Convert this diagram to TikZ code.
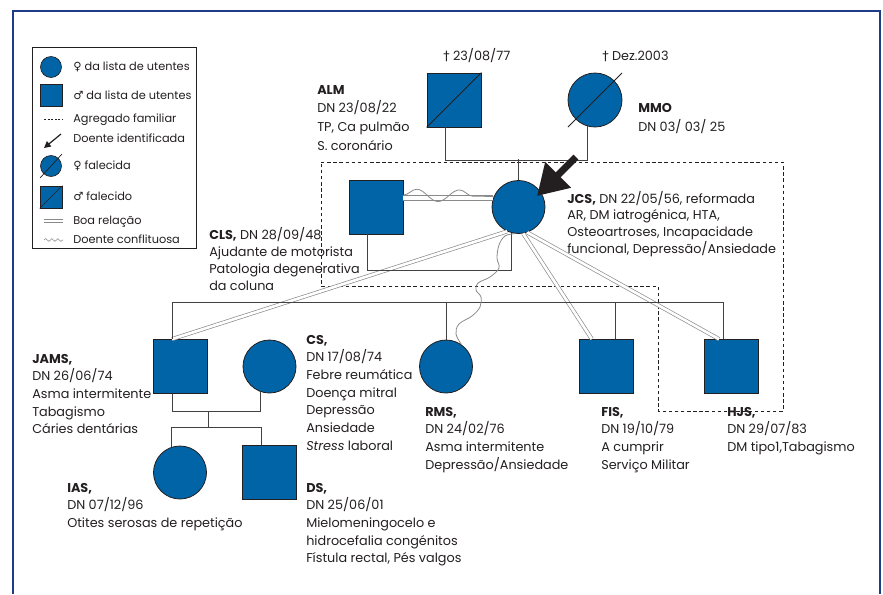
\documentclass[tikz,border=0pt]{standalone}
\usepackage{fontspec}
\setmainfont{Poppins}
\newfontfamily\symf{DejaVu Sans}
\usetikzlibrary{arrows.meta,calc,decorations.pathmorphing}
\definecolor{gblue}{HTML}{0064A6}
\definecolor{frameblue}{HTML}{1F3C88}
\definecolor{ink}{HTML}{231F20}
\definecolor{rel}{HTML}{8A8A8A}
\newcommand{\plines}[1]{\begin{tabular}[t]{@{}l@{}}#1\end{tabular}}
\begin{document}
\begin{tikzpicture}[x=0.75pt,y=-0.75pt,
  fem/.style={circle,draw=ink,fill=gblue,line width=0.6pt,minimum size=39.75pt,inner sep=0pt},
  mal/.style={rectangle,draw=ink,fill=gblue,line width=0.6pt,minimum size=40.5pt,inner sep=0pt},
  lfem/.style={circle,draw=ink,fill=gblue,line width=0.5pt,minimum size=15.75pt,inner sep=0pt},
  lmal/.style={rectangle,draw=ink,fill=gblue,line width=0.5pt,minimum size=16.5pt,inner sep=0pt},
  ped/.style={draw=ink!85,line width=0.7pt},
  hh/.style={draw=ink,line width=0.6pt,dash pattern=on 2.6pt off 2pt},
  good/.style={draw=rel,line width=0.5pt,double=white,double distance=2pt},
  conf/.style={draw=rel,line width=0.6pt},
  lbl/.style={anchor=base west,inner sep=0pt,text=ink,font=\fontsize{9.6}{13.3}\selectfont},
  lgt/.style={anchor=base west,inner sep=0pt,text=ink,font=\fontsize{8.5}{9}\selectfont}]
\useasboundingbox (0,0) rectangle (883,594);
% frame
\draw[frameblue,line width=1.2pt] (13,594) -- (13,11) -- (880,11) -- (880,594);
% legend
\draw[ink,line width=0.6pt] (32,47) rectangle (196,248);
\node[lfem] (l1) at (51,67) {};
\node[lgt] (lt1) at (73,70.5) {{\symf ♀} da lista de utentes};
\node[lmal] (l2) at (51,95.5) {};
\node[lgt] (lt2) at (73,99) {{\symf ♂} da lista de utentes};
\coordinate (l3a) at (44,119); \coordinate (l3b) at (63,119);
\draw[ink,line width=0.5pt,dash pattern=on 1.5pt off 1.2pt] (l3a) -- (l3b);
\node[lgt] (lt3) at (73,122.5) {Agregado familiar};
\coordinate (l4a) at (61,134); \coordinate (l4b) at (44,148);
\draw[ink,line width=0.9pt,-{Triangle[length=5pt,width=5pt]}] (l4a) -- (l4b);
\node[lgt] (lt4) at (73,142.5) {Doente identificada};
\node[lfem] (l5) at (51,166) {};
\draw[ink,line width=0.5pt] ($(l5.center)+(-11,12)$) -- ($(l5.center)+(11,-12)$);
\node[lgt] (lt5) at (73,169.5) {{\symf ♀} falecida};
\node[lmal] (l6) at (51,197) {};
\draw[ink,line width=0.5pt] (l6.south west) -- (l6.north east);
\node[lgt] (lt6) at (73,200.5) {{\symf ♂} falecido};
\coordinate (l7a) at (44,221); \coordinate (l7b) at (63,221);
\draw[good] (l7a) -- (l7b);
\node[lgt] (lt7) at (73,224.5) {Boa relação};
\coordinate (l8a) at (44,240); \coordinate (l8b) at (63,240);
\draw[conf,line width=0.4pt,decorate,decoration={snake,amplitude=1.1pt,segment length=4.5pt}] (l8a) -- (l8b);
\node[lgt] (lt8) at (73,243.5) {Doente conflituosa};
% household
\draw[hh] (321,162) -- (783,162) -- (783,411) -- (658,411) -- (658,286) -- (321,286) -- cycle;
% people
\node[mal] (alm) at (454,100) {};
\node[fem,minimum size=40.5pt] (mmo) at (595,100) {};
\node[mal] (cls) at (376,207) {};
\node[fem] (jcs) at (518.5,207) {};
\node[mal] (jams) at (180,366.5) {};
\node[fem] (cs) at (269.5,366.5) {};
\node[fem] (rms) at (446,366.5) {};
\node[mal] (fis) at (606.5,366.5) {};
\node[mal] (hjs) at (731,366.5) {};
\node[fem] (ias) at (180,472.5) {};
\node[mal] (ds) at (269,472.5) {};
% deceased marks
\draw[ink,line width=0.6pt] (alm.south west) -- (alm.north east);
\draw[ink,line width=0.6pt] ($(mmo.center)+(-27,27)$) -- ($(mmo.center)+(27,-27)$);
% good relations
\draw[good,double distance=3.4pt] (cls.east |- jcs.160) -- (jcs.160);
\draw[good] (jcs.245) -- ([xshift=-6pt]jams.north);
\draw[good] (jcs.280) -- ([xshift=-11pt]fis.north);
\draw[good] (jcs.289) -- ([xshift=-9pt]hjs.north);
% pedigree lines
\draw[ped] ([xshift=-6.75pt]alm.south) -- ++(0,33.5) -| (mmo.255);
\draw[ped] (jcs.north) -- ++(0,-21);
\draw[ped] ([xshift=-6.75pt]cls.south) -- ++(0,36) -| (jcs.254);
\draw[ped] ([xshift=-6pt]jams.north) -- ++(0,-37) -| ([xshift=-6pt]hjs.north);
\draw[ped] (rms.north) -- ++(0,-37);
\draw[ped] ([xshift=6.4pt]fis.north) -- ++(0,-37);
\draw[ped] ([xshift=-6pt]jams.south) -- ++(0,18) -| (cs.251);
\coordinate (m2) at (208,411);
\draw[ped] (m2) -- ++(0,17);
\draw[ped] (ias.108) -- ++(0,-19) -| ([xshift=-6pt]ds.north);
% conflict
\draw[conf,decorate,decoration={snake,amplitude=4.5pt,segment length=32pt}] (cls.east |- 0,195) -- (jcs.157);
\draw[conf] plot[smooth,tension=0.6] coordinates {(jcs.262) (505,236) (499,245) (497,258) (499,268) (490,277) (478,283) (476,290) (481,297) (480,307) (472,316) (459,324) (456,334) (rms.55)};
% arrow
\coordinate (arrtail) at (576,157);
\coordinate (arrtip) at (537,196);
\draw[ink,line width=5.2pt,-{Triangle[length=22.5pt,width=26pt]}] (arrtail) -- (arrtip);
% labels
\node[lbl] (t1) at (443,60) {{\symf †} 23/08/77};
\node[lbl] (t2) at (602,60) {{\symf †} Dez.2003};
\node[lbl,font=\fontsize{9.6}{14}\selectfont] (talm) at (317,94) {\plines{\textbf{ALM}\\DN 23/08/22\\TP, Ca pulmão\\S. coronário}};
\node[lbl,font=\fontsize{9.6}{14.5}\selectfont] (tmmo) at (638,112) {\plines{\textbf{MMO}\\DN 03/ 03/ 25}};
\node[lbl,font=\fontsize{9.6}{12.5}\selectfont] (tjcs) at (567,203) {\plines{\textbf{JCS,} DN 22/05/56, reformada\\AR, DM iatrogénica, HTA,\\Osteoartroses, Incapacidade\\funcional, Depressão/Ansiedade}};
\node[lbl,font=\fontsize{9.6}{12.8}\selectfont] (tcls) at (209,239) {\plines{\textbf{CLS,} DN 28/09/48\\Ajudante de motorista\\Patologia degenerativa\\da coluna}};
\node[lbl] (tjams) at (32,363) {\plines{\textbf{JAMS,}\\DN 26/06/74\\Asma intermitente\\Tabagismo\\Cáries dentárias}};
\node[lbl] (tcs) at (306,344) {\plines{\textbf{CS,}\\DN 17/08/74\\Febre reumática\\Doença mitral\\Depressão\\Ansiedade\\\textit{Stress} laboral}};
\node[lbl] (trms) at (425,416) {\plines{\textbf{RMS,}\\DN 24/02/76\\Asma intermitente\\Depressão/Ansiedade}};
\node[lbl] (tfis) at (601,416) {\plines{\textbf{FIS,}\\DN 19/10/79\\A cumprir\\Serviço Militar}};
\node[lbl] (thjs) at (727,416) {\plines{\textbf{HJS,}\\DN 29/07/83\\DM tipo1,Tabagismo}};
\node[lbl] (tias) at (67,492) {\plines{\textbf{IAS,}\\DN 07/12/96\\Otites serosas de repetição}};
\node[lbl] (tds) at (306,492) {\plines{\textbf{DS,}\\DN 25/06/01\\Mielomeningocelo e\\hidrocefalia congénitos\\Fístula rectal, Pés valgos}};
\end{tikzpicture}
\end{document}
